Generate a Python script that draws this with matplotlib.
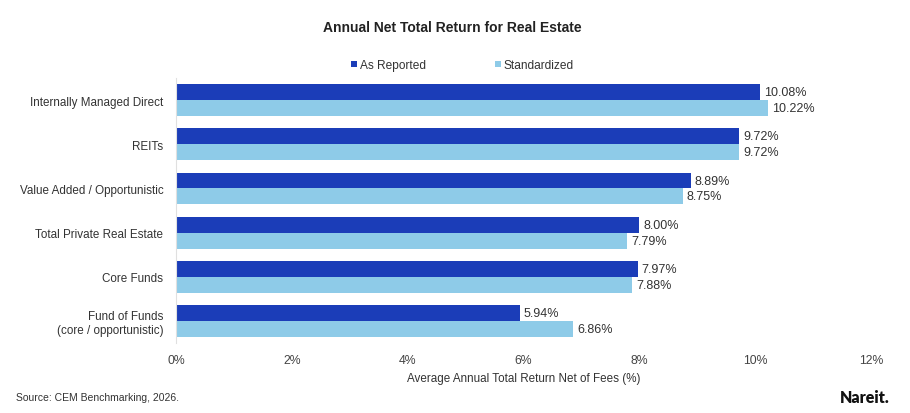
import matplotlib
matplotlib.use("Agg")
import matplotlib.pyplot as plt
import numpy as np

plt.rcParams['font.family'] = ['Liberation Sans', 'DejaVu Sans']

categories = ["Internally Managed Direct", "REITs", "Value Added / Opportunistic",
              "Total Private Real Estate", "Core Funds", "Fund of Funds\n(core / opportunistic)"]
as_reported = [10.08, 9.72, 8.89, 8.00, 7.97, 5.94]
standardized = [10.22, 9.72, 8.75, 7.79, 7.88, 6.86]
xticks = [0, 2, 4, 6, 8, 10, 12]
xtick_labels = ["0%", "2%", "4%", "6%", "8%", "10%", "12%"]

dark = "#1B3DB8"
light = "#8ECBE8"

fig = plt.figure(figsize=(9.10, 4.14), dpi=100)
ax = fig.add_axes([0.1934, 0.169, 0.7636, 0.640])

y = np.arange(len(categories))
h = 0.36
b1 = ax.barh(y - h/2, as_reported, height=h, color=dark, label="As Reported")
b2 = ax.barh(y + h/2, standardized, height=h, color=light, label="Standardized")

for yy, v in zip(y - h/2, as_reported):
    ax.text(v + 0.07, yy, f"{v:.2f}%", va="center", ha="left", fontsize=9, color="#333333")
for yy, v in zip(y + h/2, standardized):
    ax.text(v + 0.07, yy, f"{v:.2f}%", va="center", ha="left", fontsize=9, color="#333333")

ax.set_ylim(len(categories) - 0.5, -0.5)
ax.set_xlim(0, 12)
ax.set_yticks(y)
ax.set_yticklabels(categories, fontsize=8.4, color="#333333")
ax.set_xticks(xticks)
ax.set_xticklabels(xtick_labels, fontsize=8.8, color="#444444")
ax.tick_params(axis="both", length=0)
ax.tick_params(axis="y", pad=9)
ax.tick_params(axis="x", pad=8)
for s in ["top", "right", "bottom"]:
    ax.spines[s].set_visible(False)
ax.spines["left"].set_color("#e0e0e0")
ax.spines["left"].set_linewidth(0.8)

ax.set_xlabel("Average Annual Total Return Net of Fees (%)", fontsize=8.4, color="#333333", labelpad=4)

fig.text(0.497, 0.932, "Annual Net Total Return for Real Estate", ha="center", va="center",
         fontsize=10, fontweight="bold", color="#222222")

leg = fig.legend(handles=[b1, b2], loc="center", bbox_to_anchor=(0.508, 0.840), ncol=2,
                 frameon=False, fontsize=8.6, handlelength=0.5, handleheight=0.5,
                 handletextpad=0.2, columnspacing=5.8)
for t in leg.get_texts():
    t.set_color("#333333")

fig.text(0.018, 0.039, "Source: CEM Benchmarking, 2026.", ha="left", va="center",
         fontsize=7.5, color="#333333")
fig.text(0.978, 0.039, "Nareit.", ha="right", va="center", fontsize=11.5,
         fontweight="heavy", color="#111111", family=["Lato", "DejaVu Sans"])

fig.savefig("out.png", dpi=100)
